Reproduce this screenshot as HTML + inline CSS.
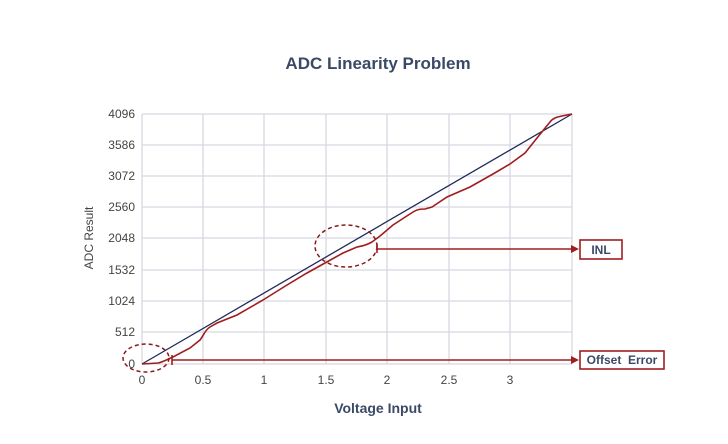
<!DOCTYPE html>
<html><head><style>body{margin:0;background:#fff;}svg{display:block}</style></head><body>
<svg width="728" height="444" viewBox="0 0 728 444" xmlns="http://www.w3.org/2000/svg" font-family="Liberation Sans, sans-serif">
<text x="378" y="69" text-anchor="middle" font-size="17" font-weight="bold" fill="#3a4a66">ADC Linearity Problem</text>
<g stroke="#d6d8e2" stroke-width="1.3">
<line x1="142" y1="114" x2="572" y2="114"/><line x1="142" y1="145" x2="572" y2="145"/><line x1="142" y1="176" x2="572" y2="176"/><line x1="142" y1="207" x2="572" y2="207"/><line x1="142" y1="238" x2="572" y2="238"/><line x1="142" y1="270" x2="572" y2="270"/><line x1="142" y1="301" x2="572" y2="301"/><line x1="142" y1="332" x2="572" y2="332"/><line x1="142" y1="364" x2="572" y2="364"/>
<line x1="142" y1="114" x2="142" y2="364"/><line x1="203" y1="114" x2="203" y2="364"/><line x1="264" y1="114" x2="264" y2="364"/><line x1="326" y1="114" x2="326" y2="364"/><line x1="387" y1="114" x2="387" y2="364"/><line x1="449" y1="114" x2="449" y2="364"/><line x1="510" y1="114" x2="510" y2="364"/><line x1="572" y1="114" x2="572" y2="364"/>
</g>
<g font-size="12" fill="#444" text-anchor="end">
<text x="135" y="118">4096</text><text x="135" y="149">3586</text><text x="135" y="180">3072</text><text x="135" y="211">2560</text><text x="135" y="242">2048</text><text x="135" y="274">1532</text><text x="135" y="305">1024</text><text x="135" y="336">512</text><text x="135" y="368">0</text>
</g>
<g font-size="12" fill="#444" text-anchor="middle">
<text x="142" y="384">0</text><text x="203" y="384">0.5</text><text x="264" y="384">1</text><text x="326" y="384">1.5</text><text x="387" y="384">2</text><text x="449" y="384">2.5</text><text x="510" y="384">3</text>
</g>
<text x="378" y="413" text-anchor="middle" font-size="14" font-weight="bold" fill="#3a4a66">Voltage Input</text>
<text transform="translate(93,238) rotate(-90)" text-anchor="middle" font-size="12" fill="#444">ADC Result</text>
<line x1="142" y1="364" x2="572" y2="114" stroke="#1f2a5a" stroke-width="1.3"/>
<path d="M142,364 L158,363 C163,362 168,359 173,357 L190,348 L200,340 C204,335 205,330 210,327 L217,323 L237,315 L263,300 L287,285 L307,273 L325,263 L343,253 L357,247 C361,246 365,246 372,242 L380,236 L393,225 L413,212 C418,209 421,209 425,209 L432,207 L447,197 L470,187 L493,174 L510,164 L525,153 L537,138 L550,122 C553,118 557,117 562,116 L572,114" fill="none" stroke="#a01d1f" stroke-width="1.6"/>
<ellipse cx="146" cy="358" rx="23" ry="14" fill="none" stroke="#8b1a1c" stroke-width="1.5" stroke-dasharray="4,3"/>
<ellipse cx="346" cy="246" rx="31" ry="21" fill="none" stroke="#8b1a1c" stroke-width="1.5" stroke-dasharray="4,3"/>
<g stroke="#a01d1f" stroke-width="1.6" fill="#a01d1f">
<line x1="377" y1="249" x2="572" y2="249"/><line x1="377" y1="244" x2="377" y2="253"/>
<polygon points="579,249 571,245 571,253" stroke="none"/>
<line x1="172" y1="360" x2="572" y2="360"/><line x1="172" y1="355" x2="172" y2="365"/>
<polygon points="579,360 571,356 571,364" stroke="none"/>
</g>
<rect x="580" y="240" width="42" height="19" fill="#fff" stroke="#a01d1f" stroke-width="1.6"/>
<text x="601" y="254" text-anchor="middle" font-size="12" font-weight="bold" fill="#3a4a66">INL</text>
<rect x="580" y="351" width="84" height="18" fill="#fff" stroke="#a01d1f" stroke-width="1.6"/>
<text x="622" y="364" text-anchor="middle" font-size="12" font-weight="bold" fill="#3a4a66">Offset&#160; Error</text>
</svg>
</body></html>
